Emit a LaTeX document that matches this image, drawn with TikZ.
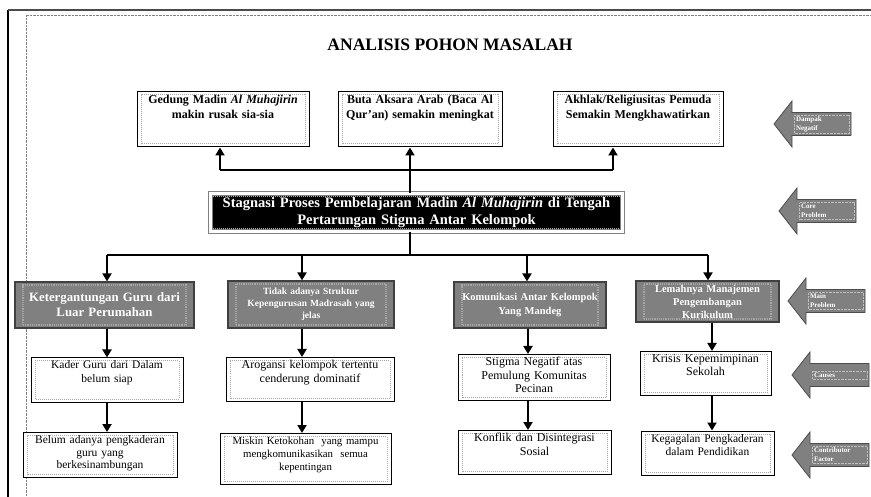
\documentclass[tikz,border=0pt]{standalone}
\usepackage{fontspec}
\setmainfont{Liberation Serif}
\usetikzlibrary{calc}
\usetikzlibrary{arrows.meta}

\tikzset{
  dotframe/.style={path picture={\draw[densely dotted,gray!70] ([shift={(#1,3pt)}]path picture bounding box.south west) rectangle ([shift={(-#1,-3pt)}]path picture bounding box.north east);}},
  dotframe/.default=4pt,
  impact/.style={draw,line width=1pt,fill=white,align=center,inner sep=3pt,
    font=\bfseries\fontsize{12}{15}\selectfont,text height=9pt,text depth=40pt,dotframe},
  coreprob/.style={fill=black,text=white,draw=gray,double=white,double distance=3pt,line width=1pt,
    align=center,inner sep=2pt,minimum height=38pt,font=\bfseries\fontsize{14.5}{16.5}\selectfont,dotframe=2pt},
  mainprob/.style={draw=black!75,line width=1.2pt,fill=black!50,text=white,align=center,inner sep=2pt,
    font=\bfseries,dotframe=8pt},
  cause/.style={draw,line width=1pt,fill=white,align=center,inner sep=3pt,
    font=\fontsize{12}{13.5}\selectfont,text height=8pt,text depth=30pt,dotframe},
  link/.style={line width=2.2pt,-{Triangle[length=8pt,width=9pt]}},
  wire/.style={line width=2.2pt},
  sidearrow/.style={fill=black!50,draw=black!70,line width=0.8pt},
  sidelabel/.style={text=white,font=\bfseries\fontsize{7}{9}\selectfont,align=left,text width=52pt,
    inner sep=1.5pt,draw=white!75!black,densely dotted}
}

\begin{document}
\begin{tikzpicture}[x=1pt,y=-1pt]
\useasboundingbox (0,0) rectangle (871,497);
\draw[line width=2pt] (8,10) -- (8,497);
\draw[line width=2pt,black!70] (8,10) -- (871,10);
\draw[densely dotted,gray] (26,497) -- (26,15) -- (871,15);

\node[font=\bfseries\fontsize{17.5}{20}\selectfont] (title) at (450,45) {ANALISIS POHON MASALAH};

% dampak
\node[impact,text width=166pt] (imp1) at (223,119.5) {Gedung Madin \textit{Al Muhajirin}\\makin rusak sia-sia};
\node[impact,text width=158pt] (imp2) at (420,119.5) {Buta Aksara Arab (Baca Al\\Qur'an) semakin meningkat};
\node[impact,text width=164pt] (imp3) at (638,119.5) {Akhlak/Religiusitas Pemuda\\Semakin Mengkhawatirkan};

% core
\node[coreprob,text width=408pt] (core) at (416.5,212.5) {Stagnasi Proses Pembelajaran Madin \textit{Al Muhajirin} di Tengah\\Pertarungan Stigma Antar Kelompok};

% main problem
\node[mainprob,text width=175pt,minimum height=46pt,font=\bfseries\fontsize{12.8}{15}\selectfont] (m1) at (104.5,305) {Ketergantungan Guru dari\\Luar Perumahan};
\node[mainprob,text width=162pt,minimum height=47pt,font=\bfseries\fontsize{9.5}{12}\selectfont] (m2) at (311,304.5) {Tidak adanya Struktur\\Kepengurusan Madrasah yang\\jelas};
\node[mainprob,text width=148pt,minimum height=46pt,font=\bfseries\fontsize{10.5}{14}\selectfont] (m3) at (530,305) {Komunikasi Antar Kelompok\\Yang Mandeg};
\node[mainprob,text width=139pt,minimum height=41pt,font=\bfseries\fontsize{10.5}{13}\selectfont] (m4) at (707.5,301.5) {Lemahnya Manajemen\\Pengembangan\\Kurikulum};

% causes
\node[cause,text width=146pt,font=\fontsize{11.5}{13.5}\selectfont] (c1) at (107,380) {Kader Guru dari Dalam\\belum siap};
\node[cause,text width=162pt] (c2) at (310,379.5) {Arogansi kelompok tertentu\\cenderung dominatif};
\node[cause,text width=146pt,text depth=32pt] (c3) at (534,377.5) {Stigma Negatif atas\\Pemulung Komunitas\\Pecinan};
\node[cause,text width=125pt] (c4) at (705.5,373.5) {Krisis Kepemimpinan\\Sekolah};

% contributor
\node[cause,text width=148pt,font=\fontsize{11.5}{12.5}\selectfont,text depth=31pt] (d1) at (100,455) {Belum adanya pengkaderan\\guru yang\\berkesinambungan};
\node[cause,text width=165pt,font=\fontsize{10.8}{13}\selectfont,text depth=37pt] (d2) at (305.5,459) {Miskin Ketokohan\ \ yang mampu\\mengkomunikasikan\ \ semua\\kepentingan};
\node[cause,text width=147pt] (d3) at (534.5,452.5) {Konflik dan Disintegrasi\\Sosial};
\node[cause,text width=127pt,font=\fontsize{11.5}{13.5}\selectfont] (d4) at (707.5,453) {Kegagalan Pengkaderan\\dalam Pendidikan};

% connectors
\coordinate (topfork) at (410,170);
\coordinate (t1) at (220,170);
\coordinate (t3) at (613,170);
\coordinate (b1) at (107,255);
\coordinate (b4) at (708,255);
\draw[wire] (topfork |- core.north) -- (topfork);
\draw[wire] (t1) -- (t3);
\draw[link] (t1) -- (t1 |- imp1.south);
\draw[link] (topfork) -- (topfork |- imp2.south);
\draw[link] (t3) -- (t3 |- imp3.south);
\draw[wire] (topfork |- core.south) -- (topfork |- b1);
\draw[wire] (b1) -- (b4);
\foreach \m/\x in {m1/107,m2/302,m3/527,m4/708}
  \draw[link] (\x,255) -- (\x,0 |- \m.north);
\foreach \x/\a/\b/\c in {107/m1/c1/d1,302/m2/c2/d2,528/m3/c3/d3,712/m4/c4/d4}{
  \draw[link] (\x,0 |- \a.south) -- (\x,0 |- \b.north);
  \draw[link] (\x,0 |- \b.south) -- (\x,0 |- \c.north);
}

% side arrows
\foreach \tx/\ty/\lab [count=\i] in {774/124/{Dampak\\Negatif},779/211/{Core\\Problem},788/301/{Main\\Problem},792/375/{Causes},792/455/{Contributor\\Factor}}{
  \filldraw[sidearrow] (\tx,\ty) -- ++(18,-23) -- ++(0,11.5) -- ++(59,0) -- ++(0,23) -- ++(-59,0) -- ++(0,11.5) -- cycle;
  \node[sidelabel] (side\i) at (\tx+48,\ty) {\lab};
}
\end{tikzpicture}
\end{document}
